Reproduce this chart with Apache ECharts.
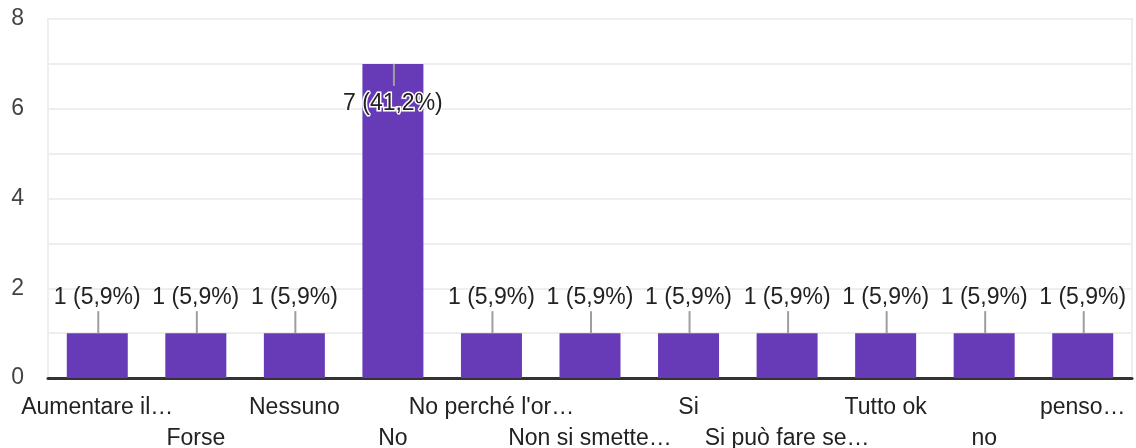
<!DOCTYPE html>
<html>
<head>
<meta charset="utf-8">
<script src="https://cdn.jsdelivr.net/npm/echarts@6/dist/echarts.min.js"></script>
<style>
  html, body { margin: 0; padding: 0; background: #fff; }
  #chart { width: 1136px; height: 448px; }
</style>
</head>
<body>
<div id="chart"></div>
<script>
const categories = [
  'Aumentare il…', 'Forse', 'Nessuno', 'No', 'No perché l\'or…',
  'Non si smette…', 'Si', 'Si può fare se…', 'Tutto ok', 'no', 'penso…'
];
const values = [1, 1, 1, 7, 1, 1, 1, 1, 1, 1, 1];
const yTicks = [0, 2, 4, 6, 8];

const total = values.reduce((a, b) => a + b, 0);
const maxValue = Math.max(...values);
const FONT = '"Liberation Sans", Arial, sans-serif';

function pctLabel(v) {
  return v + ' (' + (v / total * 100).toFixed(1).replace('.', ',') + '%)';
}

const barData = values.map((v) => {
  if (v === maxValue) {
    return {
      value: v,
      label: {
        position: 'insideTop',
        distance: 28,
        textBorderColor: '#fff',
        textBorderWidth: 3
      }
    };
  }
  return v;
});

const chart = echarts.init(document.getElementById('chart'));
chart.setOption({
  animation: false,
  grid: {
    left: 48,
    right: 4,
    top: 19,
    bottom: 70,
    outerBoundsMode: 'none',
    show: true,
    borderColor: '#eeeeee',
    borderWidth: 2
  },
  xAxis: {
    type: 'category',
    data: categories,
    axisLine: { lineStyle: { color: '#333', width: 3 } },
    axisTick: { show: false },
    axisLabel: {
      interval: 0,
      margin: 14,
      color: '#222',
      fontFamily: FONT,
      fontSize: 23,
      lineHeight: 31,
      formatter: (val, idx) => (idx % 2 ? '\n' + val : val)
    }
  },
  yAxis: {
    type: 'value',
    min: 0,
    max: 8,
    interval: 1,
    axisLine: { show: false },
    axisTick: { show: false },
    splitLine: { lineStyle: { color: '#eeeeee', width: 2 } },
    axisLabel: {
      margin: 24,
      color: '#444',
      fontFamily: FONT,
      fontSize: 23,
      formatter: (v) => (yTicks.includes(v) ? String(v) : '')
    }
  },
  series: [
    {
      type: 'bar',
      data: barData,
      barWidth: 61,
      itemStyle: { color: '#673ab7' },
      label: {
        show: true,
        position: 'top',
        distance: 24,
        color: '#222',
        fontFamily: FONT,
        fontSize: 23,
        formatter: (p) => pctLabel(p.value)
      }
    },
    {
      // leader lines between value labels and bar tops
      type: 'custom',
      silent: true,
      z: 3,
      data: values.map((v, i) => [i, v]),
      renderItem: (params, api) => {
        const v = api.value(1);
        const p = api.coord([api.value(0), v]);
        const dir = v === maxValue ? 1 : -1;
        return {
          type: 'line',
          shape: { x1: p[0] + 1, y1: p[1], x2: p[0] + 1, y2: p[1] + dir * 22 },
          style: { stroke: '#9e9e9e', lineWidth: 2 }
        };
      }
    }
  ]
});
</script>
</body>
</html>
